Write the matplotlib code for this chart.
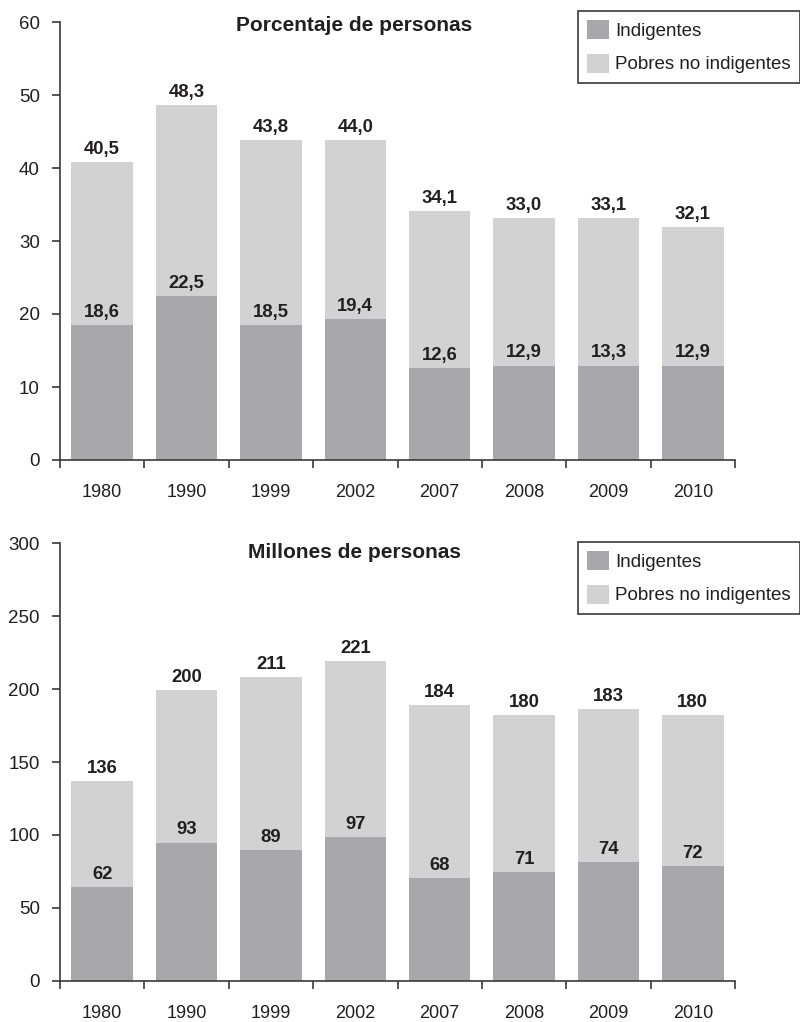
import matplotlib
matplotlib.use("Agg")
import matplotlib.pyplot as plt
import numpy as np

plt.rcParams["font.family"] = ["Liberation Sans", "DejaVu Sans"]

# ── Data ──────────────────────────────────────────────────────────────────────
years = ["1980", "1990", "1999", "2002", "2007", "2008", "2009", "2010"]

# Porcentaje de personas (bar heights as drawn, labels as printed)
pct_indig = [18.5, 22.4, 18.5, 19.3, 12.6, 12.9, 12.9, 12.9]
pct_total = [40.8, 48.6, 43.8, 43.8, 34.1, 33.1, 33.1, 31.9]
pct_indig_lbl = ["18,6", "22,5", "18,5", "19,4", "12,6", "12,9", "13,3", "12,9"]
pct_total_lbl = ["40,5", "48,3", "43,8", "44,0", "34,1", "33,0", "33,1", "32,1"]

# Millones de personas
mill_indig = [64.3, 94.7, 89.6, 98.6, 70.4, 74.5, 81.4, 78.7]
mill_total = [137.0, 199.4, 208.3, 219.3, 189.1, 182.2, 186.3, 182.2]
mill_indig_lbl = ["62", "93", "89", "97", "68", "71", "74", "72"]
mill_total_lbl = ["136", "200", "211", "221", "184", "180", "183", "180"]

# ── Style ─────────────────────────────────────────────────────────────────────
DARK = "#a7a8ab"
LIGHT = "#d1d2d4"
INK = "#231f20"
AXIS = "#3a3a3a"

fig = plt.figure(figsize=(8, 10.22), dpi=100)
fig.patch.set_facecolor("white")

W, H = 800, 1022
L, R = 60, 735


def panel(top_px, bottom_px, indig, total, indig_lbl, total_lbl,
          ymax, ystep, title, title_y, legend_top_px):
    ax = fig.add_axes([L / W, 1 - bottom_px / H, (R - L) / W,
                       (bottom_px - top_px) / H])
    x = np.arange(len(years))
    light = [t - i for t, i in zip(total, indig)]
    b1 = ax.bar(x, indig, width=0.73, color=DARK, label="Indigentes", zorder=2)
    b2 = ax.bar(x, light, width=0.73, bottom=indig, color=LIGHT,
                label="Pobres no indigentes", zorder=2)

    for xi, v, s in zip(x, indig, indig_lbl):
        ax.annotate(s, (xi, v), xytext=(0, 6), textcoords="offset points",
                    ha="center", va="baseline", fontsize=13.3,
                    fontweight="bold", color=INK)
    for xi, v, s in zip(x, total, total_lbl):
        ax.annotate(s, (xi, v), xytext=(0, 6), textcoords="offset points",
                    ha="center", va="baseline", fontsize=13.3,
                    fontweight="bold", color=INK)

    ax.set_xlim(-0.5, len(years) - 0.5)
    ax.set_ylim(0, ymax)
    ax.set_yticks(np.arange(0, ymax + 1, ystep))
    ax.set_xticks(x)
    ax.set_xticklabels(years)
    ax.set_xticks(np.arange(-0.5, len(years)), minor=True)

    for side in ("top", "right"):
        ax.spines[side].set_visible(False)
    for side in ("left", "bottom"):
        ax.spines[side].set_color(AXIS)
        ax.spines[side].set_linewidth(1.2)

    ax.tick_params(axis="x", which="major", length=0, pad=17.5,
                   labelsize=13, labelcolor=INK)
    ax.tick_params(axis="x", which="minor", length=5.5, width=1.2,
                   color=AXIS, direction="out")
    ax.tick_params(axis="y", length=5.5, width=1.2, color=AXIS, pad=9,
                   labelsize=13.5, labelcolor=INK)

    ax.text(0.436, title_y, title, transform=ax.transAxes, ha="center",
            va="center", fontsize=15, fontweight="bold", color=INK)

    leg = ax.legend(handles=[b1, b2], loc="upper right",
                    bbox_to_anchor=(1.0, 1 - legend_top_px / H),
                    bbox_transform=fig.transFigure, borderaxespad=0,
                    fontsize=13.5, frameon=True, fancybox=False,
                    handlelength=1.2, handleheight=1.2,
                    handletextpad=0.3, labelspacing=0.72, borderpad=0.5,
                    labelcolor=INK)
    frame = leg.get_frame()
    frame.set_edgecolor(AXIS)
    frame.set_linewidth(1.2)
    frame.set_alpha(1)
    return ax


panel(22, 460, pct_indig, pct_total, pct_indig_lbl, pct_total_lbl,
      60, 10, "Porcentaje de personas", 0.991, 10.7)
panel(543.3, 980.7, mill_indig, mill_total, mill_indig_lbl, mill_total_lbl,
      300, 50, "Millones de personas", 0.9785, 541.7)

fig.savefig("out.png", dpi=100, facecolor="white")
